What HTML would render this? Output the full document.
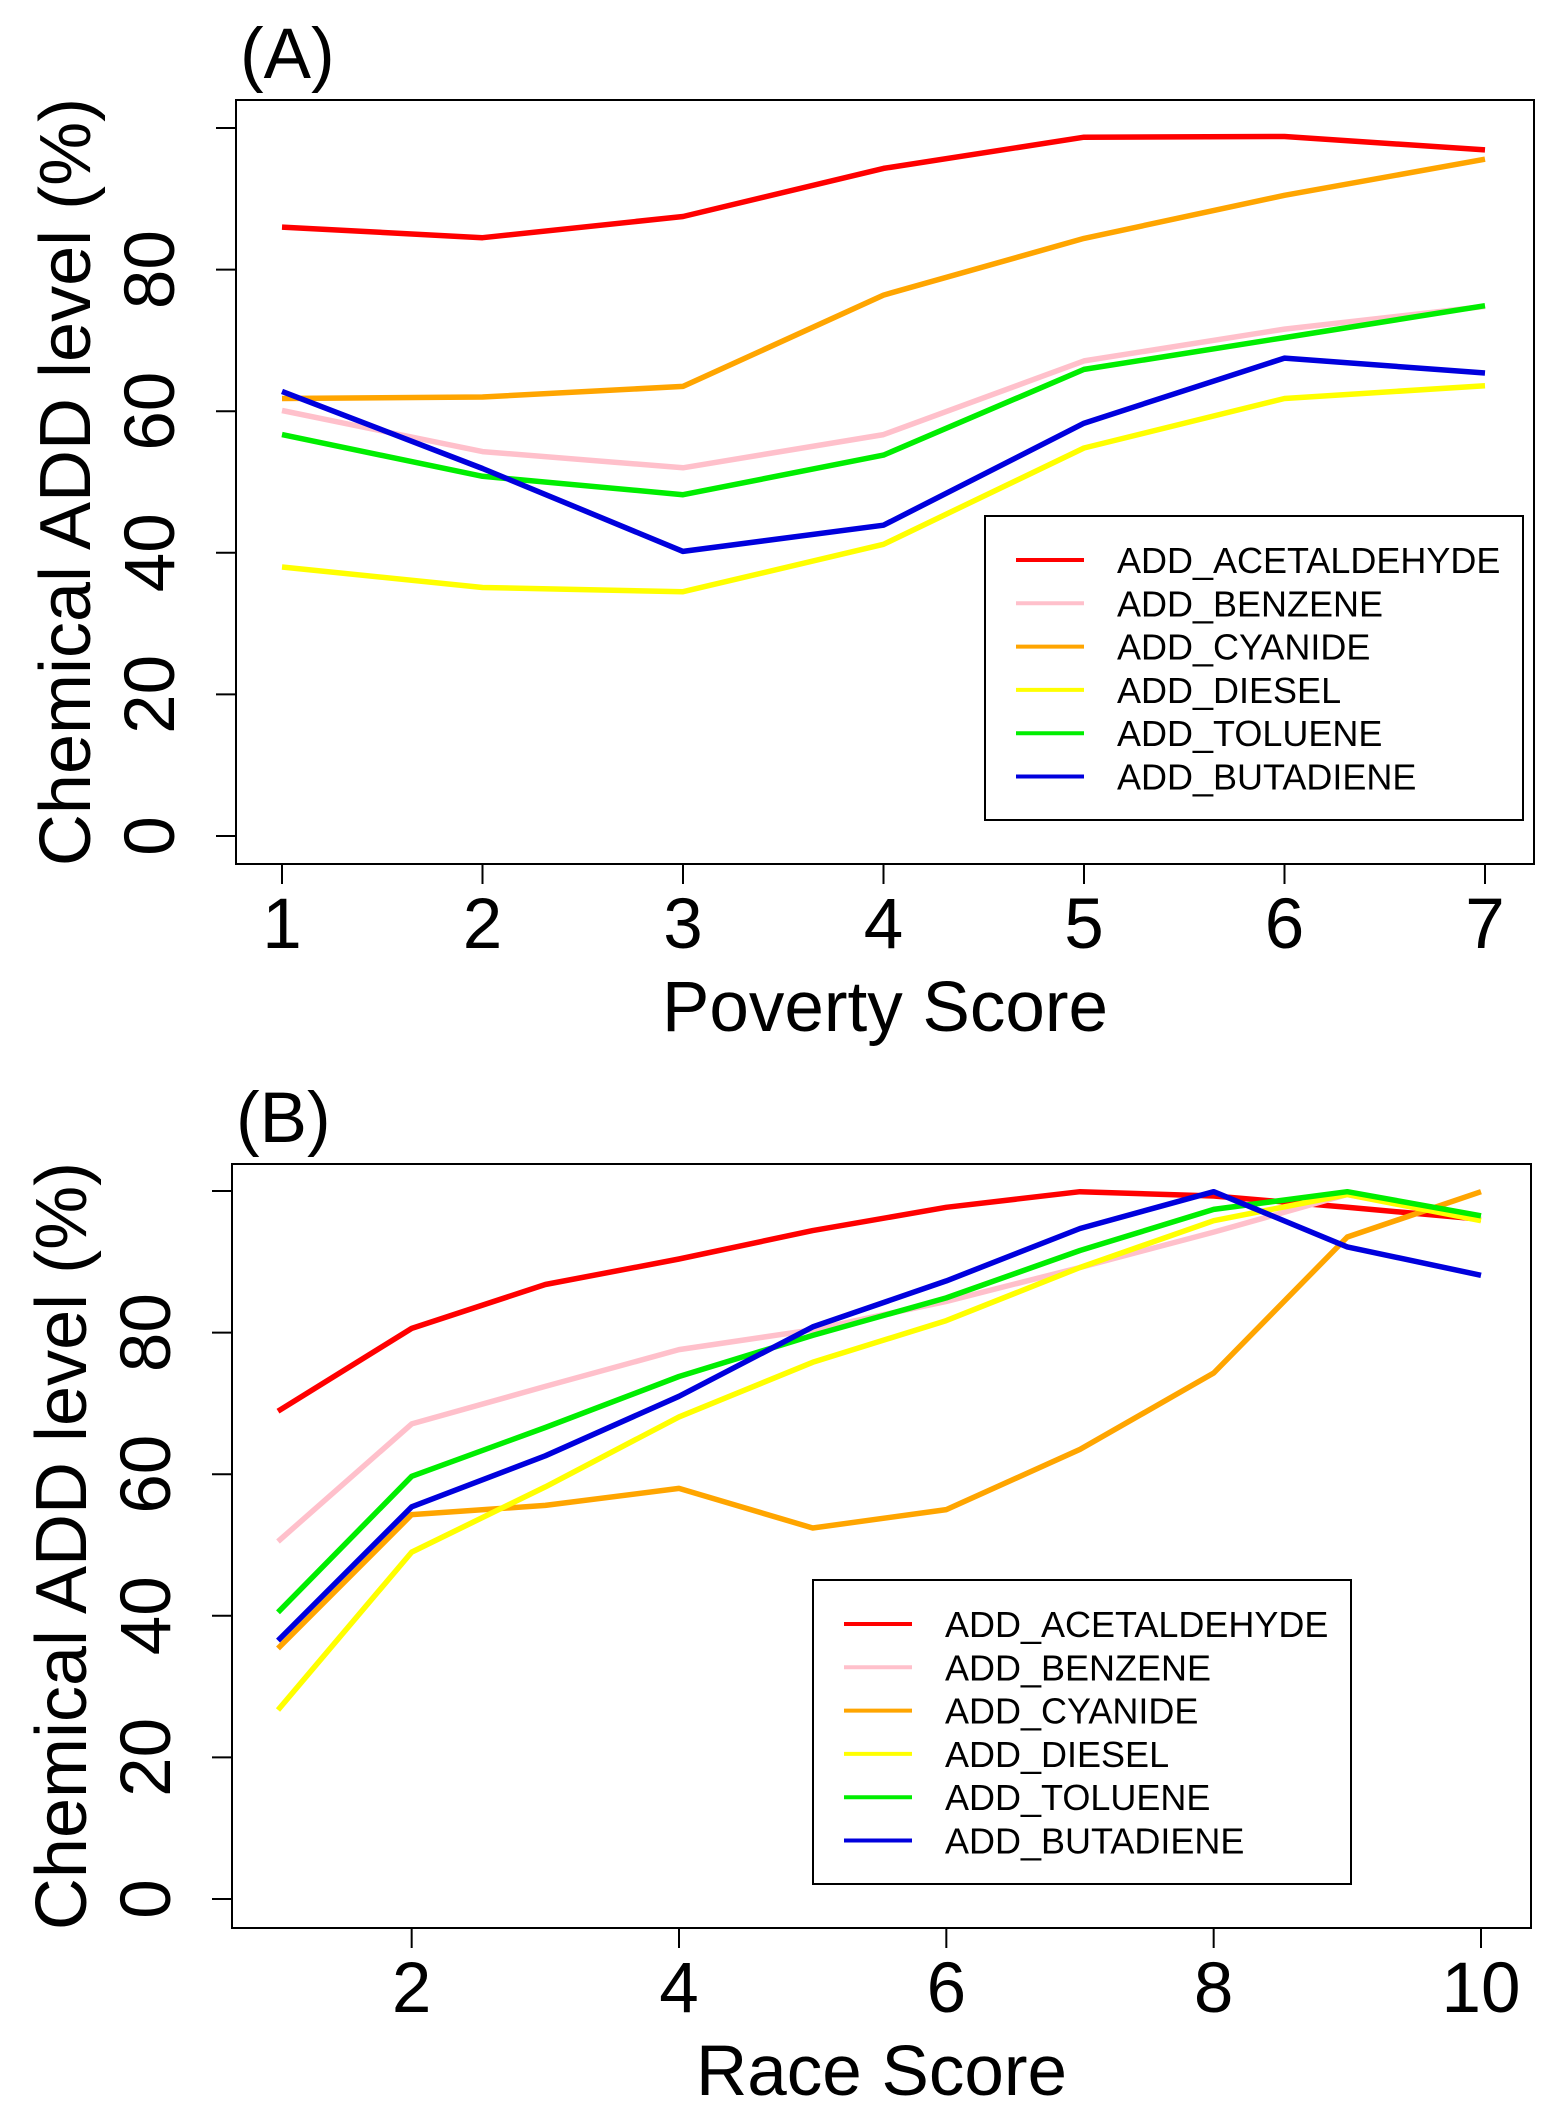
<!DOCTYPE html>
<html><head><meta charset="utf-8"><style>
html,body{margin:0;padding:0;background:#fff;}
svg{display:block;font-family:"Liberation Sans",Arial,sans-serif;}
</style></head><body>
<svg id="fig" width="1558" height="2126" viewBox="0 0 1558 2126" xmlns="http://www.w3.org/2000/svg"></svg>
<script>
const seriesNames = ["ADD_ACETALDEHYDE","ADD_BENZENE","ADD_CYANIDE","ADD_DIESEL","ADD_TOLUENE","ADD_BUTADIENE"];
const seriesColors = ["#ff0000","#ffc0cb","#ffa500","#ffff00","#00ee00","#0000dd"];
const yTicks = [0,20,40,60,80,100];
const yTickLabels = ["0","20","40","60","80",""];
const povertyX = [1,2,3,4,5,6,7];
const povertyTickLabels = ["1","2","3","4","5","6","7"];
const povAcet = [86,84.5,87.5,94.3,98.7,98.8,96.9];
const povBenz = [60.1,54.3,52,56.7,67.1,71.6,74.8];
const povCyan = [61.8,62,63.5,76.4,84.4,90.5,95.6];
const povDies = [38,35.1,34.5,41.2,54.8,61.8,63.6];
const povTolu = [56.7,50.8,48.2,53.8,65.9,70.4,74.9];
const povButa = [62.8,51.9,40.2,43.9,58.3,67.5,65.4];
const raceX = [1,2,3,4,5,6,7,8,9,10];
const raceTicks = [2,4,6,8,10];
const raceTickLabels = ["2","4","6","8","10"];
const raceAcet = [68.9,80.6,86.8,90.4,94.4,97.7,99.9,99.3,97.7,96];
const raceBenz = [50.5,67.1,72.4,77.6,80.4,84.4,89.2,94.2,99.5,96];
const raceCyan = [35.4,54.3,55.6,58,52.4,55,63.5,74.3,93.5,99.9];
const raceDies = [26.7,49,58.2,68.1,75.8,81.7,89.2,95.8,99.5,95.8];
const raceTolu = [40.5,59.7,66.6,73.8,79.6,84.9,91.6,97.4,99.9,96.5];
const raceButa = [36.5,55.4,62.6,71,80.8,87.3,94.7,99.9,92.1,88.1];

const NS="http://www.w3.org/2000/svg";
const svg=document.getElementById('fig');
function mk(tag,attrs,parent){const e=document.createElementNS(NS,tag);for(const k in attrs)e.setAttribute(k,attrs[k]);(parent||svg).appendChild(e);return e;}

function panel(cfg){
  const g=mk('g',{});
  
  
  const xs=v=>cfg.px0+(v-cfg.xmin)*(cfg.px1-cfg.px0)/(cfg.xmax-cfg.xmin);
  const ys=v=>cfg.py0+(v-0)*(cfg.py100-cfg.py0)/100;
  const box=mk('rect',{x:cfg.L,y:cfg.T,width:cfg.R-cfg.L,height:cfg.B-cfg.T,fill:'none',stroke:'#000','stroke-width':2},g);
  
  
  const lbl=mk('text',{x:cfg.L+4,y:cfg.T-22,'font-size':71},g);lbl.textContent=cfg.label;
  
  
  yTicks.forEach((t,i)=>{
    const y=ys(t);
    mk('line',{x1:cfg.L-20,x2:cfg.L,y1:y,y2:y,stroke:'#000','stroke-width':2},g);
    if(yTickLabels[i]){
      const tx=mk('text',{x:0,y:0,'font-size':71,'text-anchor':'middle',transform:`translate(${cfg.L-62},${y}) rotate(-90)`},g);
      tx.textContent=yTickLabels[i];
      
      
    }
  });
  const yt=mk('text',{x:0,y:0,'font-size':72,'text-anchor':'middle',transform:`translate(${cfg.L-146},${(cfg.T+cfg.B)/2}) rotate(-90)`},g);
  yt.textContent='Chemical ADD level (%)';
  
  
  cfg.xticks.forEach((t,i)=>{
    const x=xs(t);
    mk('line',{x1:x,x2:x,y1:cfg.B,y2:cfg.B+20,stroke:'#000','stroke-width':2},g);
    const tx=mk('text',{x:x,y:cfg.B+84,'font-size':71,'text-anchor':'middle'},g);
    tx.textContent=cfg.xlabels[i];
    
    
  });
  const xt=mk('text',{x:(cfg.L+cfg.R)/2,y:cfg.B+167,'font-size':71,'text-anchor':'middle'},g);
  xt.textContent=cfg.xtitle;
  
  
  cfg.series.forEach((vals,si)=>{
    const pts=cfg.xvals.map((xv,i)=>xs(xv).toFixed(1)+','+ys(vals[i]).toFixed(1)).join(' ');
    const pl=mk('polyline',{points:pts,fill:'none',stroke:seriesColors[si],'stroke-width':5.5,'stroke-linejoin':'round'},g);
    
    
  });
  const lg=mk('g',{},g);
  
  
  mk('rect',{x:cfg.lx,y:cfg.ly,width:538,height:304,fill:'#fff',stroke:'#000','stroke-width':2},lg);
  seriesNames.forEach((n,i)=>{
    const y=cfg.ly+44+i*43.3;
    const le=mk('g',{},lg);
    
    
    mk('line',{x1:cfg.lx+31,x2:cfg.lx+99,y1:y,y2:y,stroke:seriesColors[i],'stroke-width':4},le);
    const t=mk('text',{x:cfg.lx+132,y:y+13,'font-size':36},le);t.textContent=n;
  });
}
panel({id:'poverty',label:'(A)',L:236,R:1534,T:100,B:864,px0:282,px1:1485,xmin:1,xmax:7,py0:836,py100:128,
  xticks:povertyX,xlabels:povertyTickLabels,xvals:povertyX,xtitle:'Poverty Score',
  series:[povAcet,povBenz,povCyan,povDies,povTolu,povButa],lx:985,ly:516});
panel({id:'race',label:'(B)',L:232,R:1531,T:1164,B:1928,px0:278,px1:1481,xmin:1,xmax:10,py0:1899,py100:1191,
  xticks:raceTicks,xlabels:raceTickLabels,xvals:raceX,xtitle:'Race Score',
  series:[raceAcet,raceBenz,raceCyan,raceDies,raceTolu,raceButa],lx:813,ly:1580});
</script>
</body></html>
